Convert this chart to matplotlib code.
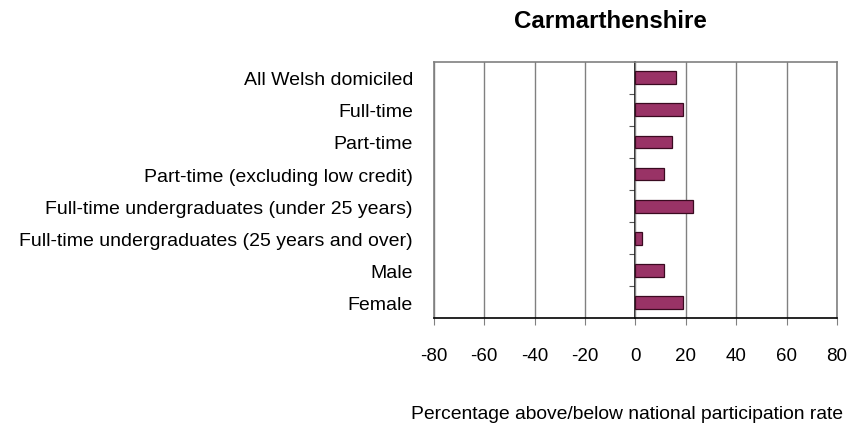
import matplotlib
matplotlib.use("Agg")
import matplotlib.pyplot as plt
import numpy as np

plt.rcParams['font.family'] = ['Liberation Sans', 'DejaVu Sans']

categories = ['All Welsh domiciled', 'Full-time', 'Part-time',
              'Part-time (excluding low credit)',
              'Full-time undergraduates (under 25 years)',
              'Full-time undergraduates (25 years and over)',
              'Male', 'Female']
values = [16, 19, 14.5, 11.3, 23, 2.8, 11.3, 19]
xticks = [-80, -60, -40, -20, 0, 20, 40, 60, 80]

fig = plt.figure(figsize=(8.54, 4.27), dpi=100)
ax = fig.add_axes([0.508, 0.252, 0.472, 0.601])

y = np.arange(len(categories))
ax.barh(y, values, height=0.4, color='#993366', edgecolor='#3a0a20',
        linewidth=0.9, zorder=3)

ax.set_xlim(-80, 80)
ax.set_ylim(len(categories) - 0.5, -0.5)
ax.set_xticks(xticks)
ax.set_xticklabels([str(t) for t in xticks], fontsize=13.5)
ax.tick_params(axis='x', direction='out', length=5, color='#808080',
               pad=15.5)
ax.set_yticks(y)
ax.set_yticklabels(categories, fontsize=14)
ax.tick_params(axis='y', length=0, pad=15)
ax.grid(axis='x', color='#808080', linewidth=1, zorder=0)

for s in ['top', 'right', 'left']:
    ax.spines[s].set_color('#808080')
    ax.spines[s].set_linewidth(1.2)
ax.spines['bottom'].set_color('black')
ax.spines['bottom'].set_linewidth(1.2)

# zero axis with category separators
sec = ax.secondary_yaxis(0.5)
sec.set_alignment('left')
sec.spines['left'].set_color('black')
sec.spines['left'].set_linewidth(1.2)
sec.spines['left'].set_zorder(4)
sec.set_yticks(y[:-1] + 0.5)
sec.set_yticklabels([])
sec.tick_params(axis='y', direction='out', length=4.5, color='#555555')

ax.set_title('Carmarthenshire', fontsize=17.4, fontweight='bold', pad=25,
             x=0.437)
ax.set_xlabel('Percentage above/below national participation rate',
              fontsize=13.9, labelpad=29.5, x=0.478)

fig.savefig('out.png', dpi=100)
